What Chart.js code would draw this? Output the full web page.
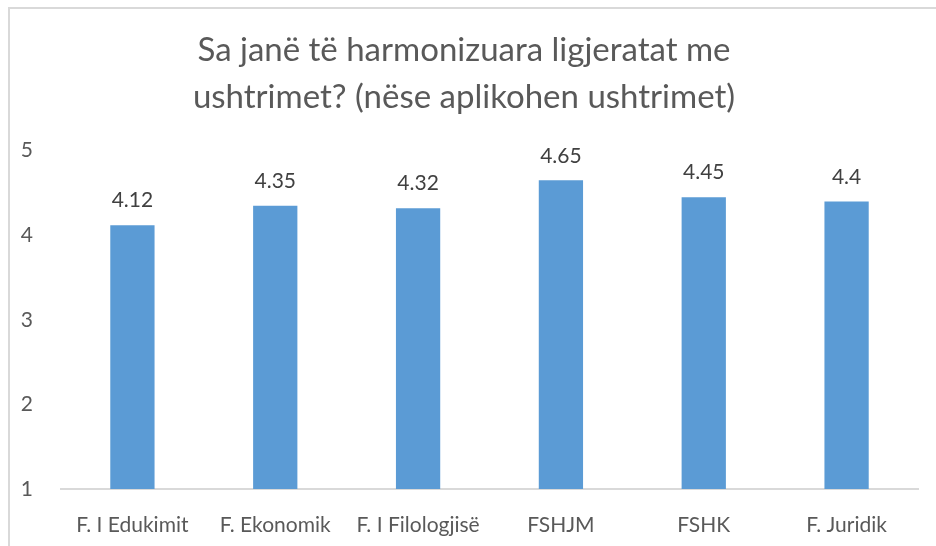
<!DOCTYPE html>
<html>
<head>
<meta charset="utf-8">
<script src="https://cdn.jsdelivr.net/npm/chart.js@4.4.1/dist/chart.umd.min.js"></script>
<style>
  html, body { margin: 0; padding: 0; background: #fff; overflow: hidden; }
  #frame {
    position: absolute; left: 8px; top: 7px;
    width: 940px; height: 560px;
    border-left: 2px solid #d9d9d9; border-top: 2px solid #d9d9d9;
  }
  #wrap { position: absolute; left: 10px; top: 9px; width: 926px; height: 537px; }
</style>
</head>
<body>
<div id="frame"></div>
<div id="wrap"><canvas id="myChart"></canvas></div>
<script>
// datos del grafico
const categories = ['F. I Edukimit', 'F. Ekonomik', 'F. I Filologjisë', 'FSHJM', 'FSHK', 'F. Juridik'];
const values = [4.12, 4.35, 4.32, 4.65, 4.45, 4.4];
const yTicks = [1, 2, 3, 4, 5];
const titleLines = ['Sa janë të harmonizuara ligjeratat me', 'ushtrimet? (nëse aplikohen ushtrimet)'];

const FONT = 'Lato, "Open Sans", sans-serif';

// etiquetas encima de las barras
const valueLabels = {
  id: 'valueLabels',
  afterDatasetsDraw(chart) {
    const c = chart.ctx;
    const meta = chart.getDatasetMeta(0);
    c.save();
    c.font = '21px ' + FONT;
    c.fillStyle = '#404040';
    c.textAlign = 'center';
    c.textBaseline = 'bottom';
    meta.data.forEach((bar, i) => {
      c.fillText(String(values[i]), bar.x, bar.y - 14);
    });
    c.restore();
  }
};

const ctx = document.getElementById('myChart').getContext('2d');

new Chart(ctx, {
  type: 'bar',
  data: {
    labels: categories,
    datasets: [{
      data: values,
      backgroundColor: '#5B9BD5',
      borderWidth: 0,
      categoryPercentage: 1,
      barPercentage: 0.31
    }]
  },
  options: {
    responsive: true,
    maintainAspectRatio: false,
    animation: false,
    layout: { padding: { left: 0, right: 18, top: 0, bottom: 0 } },
    plugins: {
      legend: { display: false },
      tooltip: { enabled: false },
      title: {
        display: true,
        text: titleLines,
        color: '#595959',
        font: { family: FONT, size: 33, weight: 'normal', lineHeight: 1.42 },
        padding: { top: 18, bottom: 30 }
      }
    },
    scales: {
      y: {
        min: 1,
        max: 5,
        afterBuildTicks(scale) {
          scale.ticks = yTicks.map(v => ({ value: v }));
        },
        afterFit(scale) { scale.width = 51; },
        grid: { display: false },
        border: { display: false },
        ticks: {
          color: '#595959',
          font: { family: FONT, size: 21 },
          padding: 20
        }
      },
      x: {
        afterFit(scale) { scale.height = 57; },
        grid: { display: false },
        border: { display: true, color: '#d9d9d9', width: 2 },
        ticks: {
          color: '#595959',
          font: { family: FONT, size: 21 },
          padding: 16,
          maxRotation: 0,
          autoSkip: false
        }
      }
    }
  },
  plugins: [valueLabels]
});
</script>
</body>
</html>
